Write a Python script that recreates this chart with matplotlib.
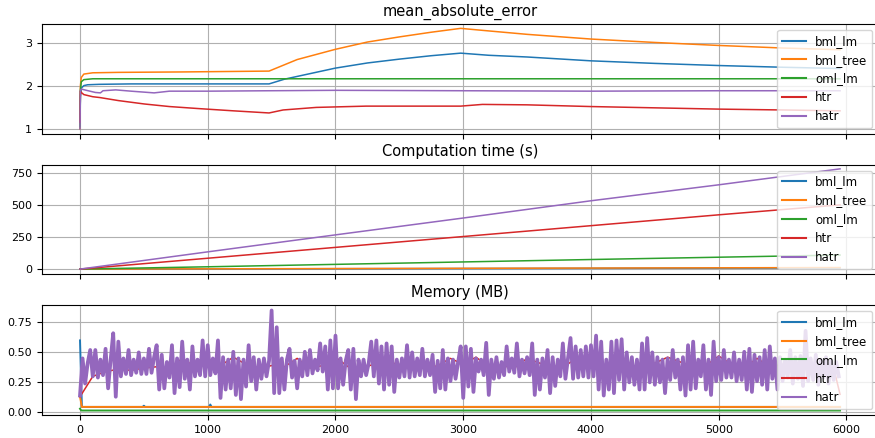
import numpy as np
import matplotlib.pyplot as plt

models = ["bml_lm", "bml_tree", "oml_lm", "htr", "hatr"]
colors = ["tab:blue", "tab:orange", "tab:green", "tab:red", "tab:purple"]

# mean absolute error, read at uneven sample points
mae_x = {
    "bml_lm": [0, 3, 10, 30, 60, 150, 400, 1000, 1480, 1600, 1800, 2000, 2250, 2500, 2750, 2980, 3200, 3500, 4000, 4500, 5000, 5500, 5950],
    "bml_tree": [0, 3, 10, 30, 100, 300, 800, 1480, 1700, 2000, 2250, 2500, 2750, 2980, 3200, 3500, 4000, 4500, 5000, 5500, 5950],
    "oml_lm": [0, 3, 10, 30, 100, 5950],
    "htr": [0, 3, 10, 30, 100, 157, 300, 504, 700, 940, 1200, 1480, 1590, 1850, 2240, 2600, 2980, 3150, 3500, 4000, 4500, 5000, 5500, 5950],
    "hatr": [0, 3, 10, 50, 120, 160, 180, 280, 400, 580, 700, 1000, 1480, 2000, 3000, 4000, 5000, 5950],
}
mae_y = {
    "bml_lm": [1.0, 1.75, 1.95, 2.01, 2.03, 2.04, 2.05, 2.05, 2.05, 2.16, 2.29, 2.42, 2.54, 2.63, 2.71, 2.77, 2.72, 2.68, 2.59, 2.53, 2.48, 2.44, 2.41],
    "bml_tree": [1.0, 2.0, 2.2, 2.28, 2.31, 2.32, 2.33, 2.35, 2.62, 2.86, 3.03, 3.15, 3.26, 3.35, 3.29, 3.21, 3.10, 3.02, 2.95, 2.89, 2.85],
    "oml_lm": [1.05, 1.9, 2.1, 2.15, 2.17, 2.17],
    "htr": [1.15, 1.88, 1.85, 1.80, 1.75, 1.73, 1.66, 1.58, 1.52, 1.47, 1.42, 1.37, 1.44, 1.50, 1.53, 1.53, 1.53, 1.57, 1.56, 1.52, 1.49, 1.46, 1.44, 1.42],
    "hatr": [1.0, 1.9, 1.93, 1.90, 1.85, 1.84, 1.89, 1.91, 1.88, 1.84, 1.88, 1.88, 1.89, 1.90, 1.89, 1.88, 1.89, 1.89],
}

# computation time (s)
time_x = [0, 1000, 2000, 3000, 4000, 5000, 5950]
time_y = {
    "bml_lm": [0, 1.5, 3, 4.5, 6, 7.5, 9],
    "bml_tree": [0, 2, 4, 6, 8, 10, 12],
    "oml_lm": [0, 18, 37, 56, 75, 93, 110],
    "htr": [0, 85, 170, 255, 340, 425, 503],
    "hatr": [0, 135, 268, 400, 535, 660, 785],
}

# memory (MB)
mem_x = {
    "bml_lm": [0, 15, 490, 500, 510, 1010, 1020, 1030, 5950],
    "bml_tree": [0, 15, 5950],
    "oml_lm": [0, 10, 5950],
}
mem_y = {
    "bml_lm": [0.60, 0.045, 0.045, 0.055, 0.045, 0.045, 0.065, 0.045, 0.045],
    "bml_tree": [0.13, 0.045, 0.045],
    "oml_lm": [0.03, 0.015, 0.015],
}
htr_mem = [0.13, 0.30, 0.34, 0.36, 0.35, 0.37, 0.38, 0.36, 0.45, 0.38,
           0.40, 0.39, 0.46, 0.40, 0.37, 0.39, 0.38, 0.45, 0.37, 0.39,
           0.46, 0.38, 0.37, 0.40, 0.45, 0.38, 0.41, 0.36, 0.39, 0.45,
           0.40, 0.46, 0.38, 0.39, 0.37, 0.45, 0.41, 0.38, 0.39, 0.46,
           0.39, 0.37, 0.45, 0.38, 0.39, 0.41, 0.46, 0.42, 0.38, 0.39,
           0.47, 0.40, 0.37, 0.45, 0.38, 0.40, 0.39, 0.38, 0.40, 0.37, 0.15]
htr_mem_x = list(range(0, 6000, 100)) + [5950]

# hatr memory, one reading every 20 samples
hatr_mem = [
    0.14, 0.45, 0.24, 0.41, 0.52, 0.30, 0.52, 0.29, 0.44, 0.31,
    0.53, 0.20, 0.44, 0.66, 0.13, 0.59, 0.30, 0.45, 0.32, 0.52,
    0.31, 0.44, 0.33, 0.50, 0.32, 0.45, 0.32, 0.53, 0.33, 0.46,
    0.56, 0.19, 0.48, 0.20, 0.42, 0.29, 0.56, 0.16, 0.45, 0.21,
    0.59, 0.28, 0.44, 0.19, 0.55, 0.30, 0.44, 0.31, 0.60, 0.30,
    0.56, 0.31, 0.45, 0.325, 0.60, 0.12, 0.46, 0.19, 0.44, 0.20,
    0.505, 0.145, 0.45, 0.11, 0.44, 0.215, 0.56, 0.26, 0.46, 0.19,
    0.44, 0.28, 0.45, 0.30, 0.43, 0.85, 0.16, 0.71, 0.16, 0.45,
    0.19, 0.44, 0.53, 0.29, 0.43, 0.20, 0.44, 0.30, 0.505, 0.31,
    0.52, 0.325, 0.44, 0.35, 0.575, 0.34, 0.55, 0.19, 0.60, 0.20,
    0.64, 0.20, 0.45, 0.23, 0.43, 0.52, 0.19, 0.53, 0.11, 0.44,
    0.30, 0.44, 0.31, 0.41, 0.59, 0.30, 0.60, 0.24, 0.55, 0.19,
    0.575, 0.23, 0.55, 0.17, 0.44, 0.29, 0.45, 0.30, 0.56, 0.29,
    0.50, 0.30, 0.45, 0.31, 0.53, 0.30, 0.44, 0.31, 0.48, 0.17,
    0.43, 0.20, 0.52, 0.19, 0.45, 0.26, 0.44, 0.28, 0.42, 0.55,
    0.12, 0.55, 0.215, 0.53, 0.17, 0.45, 0.34, 0.44, 0.31, 0.58,
    0.145, 0.44, 0.28, 0.46, 0.29, 0.42, 0.31, 0.55, 0.34, 0.45,
    0.33, 0.575, 0.30, 0.44, 0.325, 0.46, 0.31, 0.575, 0.145, 0.44,
    0.19, 0.45, 0.29, 0.52, 0.16, 0.46, 0.22, 0.44, 0.30, 0.575,
    0.28, 0.45, 0.62, 0.28, 0.55, 0.29, 0.52, 0.30, 0.55, 0.29,
    0.56, 0.30, 0.64, 0.19, 0.59, 0.14, 0.44, 0.19, 0.59, 0.16,
    0.60, 0.27, 0.61, 0.19, 0.50, 0.25, 0.46, 0.23, 0.44, 0.19,
    0.575, 0.19, 0.62, 0.25, 0.50, 0.23, 0.46, 0.25, 0.44, 0.16,
    0.45, 0.27, 0.52, 0.29, 0.44, 0.19, 0.46, 0.14, 0.56, 0.19,
    0.59, 0.20, 0.44, 0.30, 0.56, 0.19, 0.44, 0.145, 0.59, 0.26,
    0.46, 0.27, 0.52, 0.29, 0.44, 0.29, 0.50, 0.26, 0.44, 0.27,
    0.505, 0.19, 0.53, 0.17, 0.48, 0.26, 0.46, 0.23, 0.52, 0.19,
    0.55, 0.28, 0.45, 0.19, 0.46, 0.26, 0.44, 0.29, 0.52, 0.24,
    0.46, 0.28, 0.47, 0.22, 0.68, 0.26, 0.45, 0.27, 0.48, 0.23,
    0.44, 0.29, 0.46, 0.24, 0.43, 0.27, 0.42, 0.30,
]
hatr_mem_x = np.arange(len(hatr_mem)) * 20

fig, axes = plt.subplots(3, 1, figsize=(8.75, 4.38), dpi=100, sharex=True)
fig.subplots_adjust(left=42 / 875, right=1.0035, top=0.945, bottom=0.0525, hspace=0.28)

ax = axes[0]
for m, c in zip(models, colors):
    ax.plot(mae_x[m], mae_y[m], color=c, lw=1.1, label=m)
ax.set_title("mean_absolute_error", fontsize=10.5)
ax.set_ylim(0.88, 3.45)
ax.set_yticks([1, 2, 3])

ax = axes[1]
for m, c in zip(models, colors):
    ax.plot(time_x, time_y[m], color=c, lw=1.1, label=m)
ax.set_title("Computation time (s)", fontsize=10.5)
ax.set_ylim(-42, 818)
ax.set_yticks([0, 250, 500, 750])

ax = axes[2]
for m, c in zip(models[:3], colors[:3]):
    ax.plot(mem_x[m], mem_y[m], color=c, lw=1.4, label=m)
ax.plot(htr_mem_x, htr_mem, color=colors[3], lw=1.1, label="htr")
# thick stroke so the dense samples read as a filled band
ax.plot(hatr_mem_x, hatr_mem, color=colors[4], lw=2.7, label="hatr")
ax.set_title("Memory (MB)", fontsize=10.5)
ax.set_ylim(-0.0225, 0.894)
ax.set_yticks([0, 0.25, 0.5, 0.75])
ax.set_yticklabels(["0.00", "0.25", "0.50", "0.75"])

for ax in axes:
    ax.grid(True, color="#b0b0b0", lw=0.8)
    ax.set_xlim(-297.5, 6247.5)
    ax.tick_params(labelsize=8)
    leg = ax.legend(loc="upper right", fontsize=8.5)
    for h in leg.get_lines():
        h.set_linewidth(1.5)

axes[2].set_xticks([0, 1000, 2000, 3000, 4000, 5000, 6000])

fig.savefig("out.png", dpi=100)
